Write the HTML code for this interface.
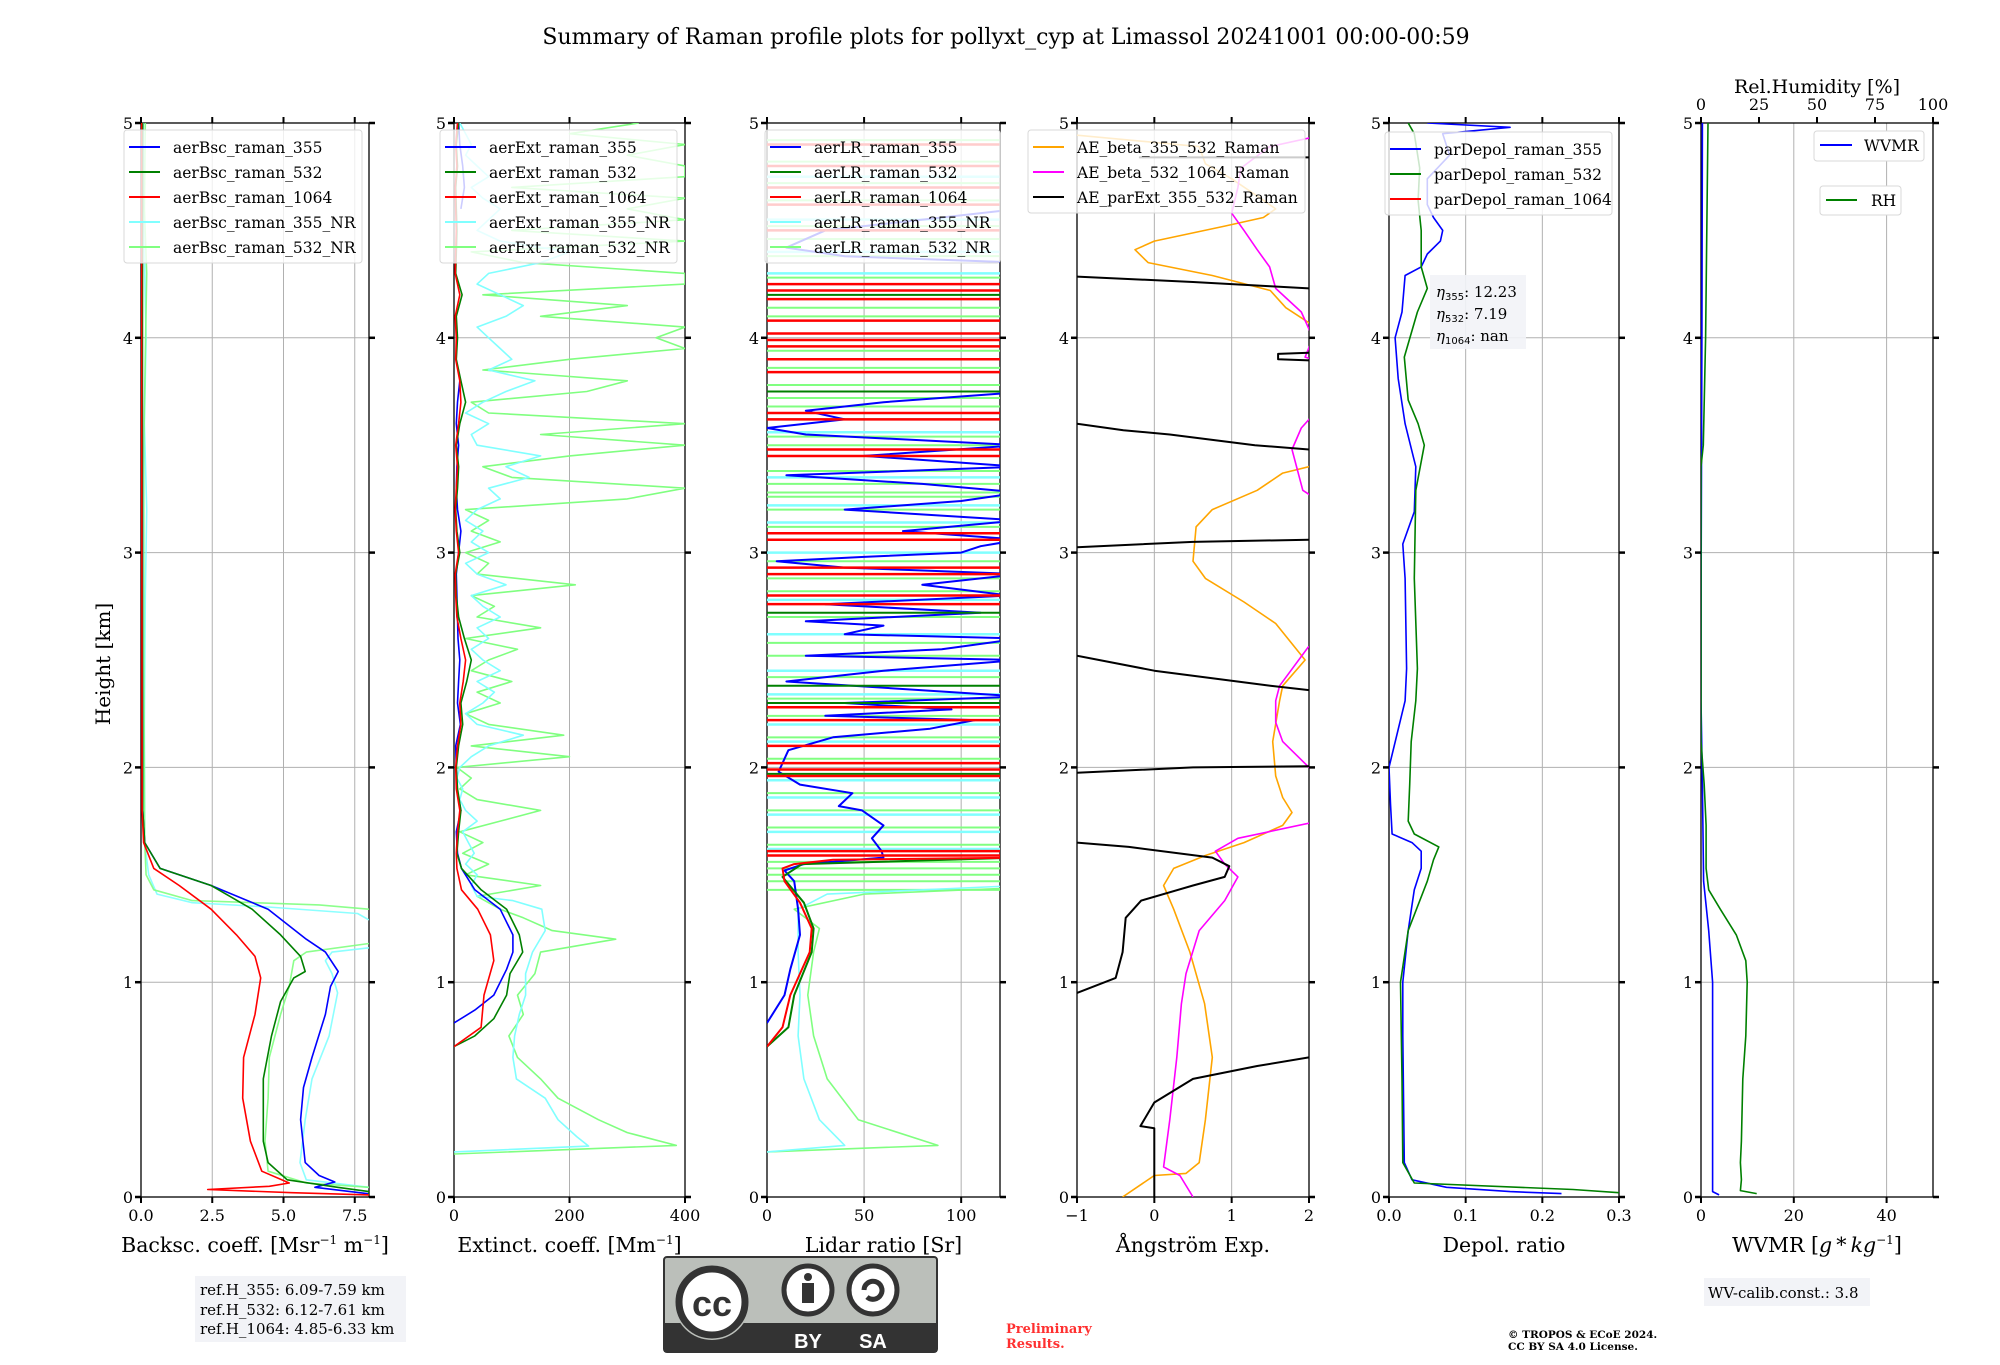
<!DOCTYPE html>
<html><head><meta charset="utf-8"><style>
html,body{margin:0;padding:0;background:#fff;}
svg text{font-family:"DejaVu Serif","Liberation Serif",serif;}
</style></head><body>
<svg id="fig" xmlns="http://www.w3.org/2000/svg" width="2000" height="1360" viewBox="0 0 2000 1360">
<rect x="0" y="0" width="2000" height="1360" fill="#fff"/>
<text x="1006" y="44" font-size="22" text-anchor="middle">Summary of Raman profile plots for pollyxt_cyp at Limassol 20241001 00:00-00:59</text>
<text transform="translate(110,664) rotate(-90)" font-size="20" text-anchor="middle">Height [km]</text>
<g id="plots"></g>
<g>
<rect x="195" y="1276" width="211" height="66" fill="#f2f3f7"/>
<text x="200" y="1295" font-size="15">ref.H_355: 6.09-7.59 km</text>
<text x="200" y="1315" font-size="15">ref.H_532: 6.12-7.61 km</text>
<text x="200" y="1334" font-size="15">ref.H_1064: 4.85-6.33 km</text>
</g>
<g>
<rect x="1704" y="1278" width="166" height="28" fill="#f2f3f7"/>
<text x="1708" y="1298" font-size="15">WV-calib.const.: 3.8</text>
</g>
<g>
<rect x="664" y="1257" width="273" height="95" rx="3" fill="#bbbfba" stroke="#333" stroke-width="2"/>
<rect x="664" y="1323" width="273" height="29" fill="#333"/>
<circle cx="712" cy="1302" r="38" fill="#bbbfba"/>
<circle cx="712" cy="1302" r="33" fill="#fff" stroke="#333" stroke-width="7"/>
<text x="712" y="1316" font-weight="bold" font-size="36" text-anchor="middle" fill="#333" style="font-family:'Liberation Sans',sans-serif">cc</text>
<circle cx="808" cy="1290" r="24" fill="#fff" stroke="#333" stroke-width="5"/>
<circle cx="808" cy="1277" r="4" fill="#333"/><rect x="802" y="1283" width="12" height="20" fill="#333"/>
<circle cx="873" cy="1290" r="24" fill="#fff" stroke="#333" stroke-width="5"/>
<path d="M864 1290 a9 9 0 1 1 3 7" fill="none" stroke="#333" stroke-width="5"/>
<text x="808" y="1348" font-size="20" font-weight="bold" fill="#fff" text-anchor="middle" style="font-family:'Liberation Sans',sans-serif">BY</text>
<text x="873" y="1348" font-size="20" font-weight="bold" fill="#fff" text-anchor="middle" style="font-family:'Liberation Sans',sans-serif">SA</text>
</g>
<text x="1006" y="1333" font-size="13" font-weight="bold" fill="#ff3030">Preliminary</text>
<text x="1006" y="1348" font-size="13" font-weight="bold" fill="#ff3030">Results.</text>
<text x="1508" y="1338" font-size="10.5" font-weight="bold">© TROPOS &amp; ECoE 2024.</text>
<text x="1508" y="1350" font-size="10.5" font-weight="bold">CC BY SA 4.0 License.</text>
</svg>
<script>
// ---------- data ----------
const heightTicks=[0,1,2,3,4,5];
const bscTicks=[0,2.5,5,7.5], bscTickLabels=["0.0","2.5","5.0","7.5"];
const extTicks=[0,200,400], lrTicks=[0,50,100], aeTicks=[-1,0,1,2], aeTickLabels=["\u22121","0","1","2"];
const depTicks=[0,0.1,0.2,0.3], depTickLabels=["0.0","0.1","0.2","0.3"];
const wvTicks=[0,20,40], rhTicks=[0,25,50,75,100];

// Panel 1: backscatter
const bsc355H=[0.015,0.045,0.07,0.1,0.16,0.36,0.51,0.65,0.85,0.98,1.05,1.14,1.2,1.34,1.45,1.53,1.65,1.8,2.5,3.5,4.5,5.0];
const bsc355V=[8,6.1,6.8,6.25,5.76,5.6,5.7,6.0,6.47,6.65,6.92,6.47,5.8,4.46,2.46,0.67,0.13,0.06,0.05,0.05,0.04,0.04];
const bsc532H=[0.01,0.025,0.045,0.08,0.16,0.26,0.55,0.75,0.91,1.02,1.05,1.12,1.22,1.34,1.45,1.53,1.65,1.8,3.0,4.0,5.0];
const bsc532V=[8,8,6.9,5.13,4.46,4.29,4.29,4.58,4.9,5.36,5.76,5.6,4.9,3.9,2.46,0.67,0.13,0.06,0.04,0.05,0.06];
const bsc1064H=[0.01,0.02,0.035,0.05,0.065,0.12,0.26,0.46,0.65,0.85,1.02,1.12,1.22,1.34,1.45,1.53,1.65,1.8,3.0,4.0,5.0];
const bsc1064V=[8,5.3,2.34,4.5,5.2,4.24,3.84,3.57,3.6,4.0,4.2,4.0,3.35,2.46,1.34,0.45,0.09,0.04,0.03,0.02,0.02];
const bsc355nrH=[0.045,0.08,0.16,0.36,0.55,0.75,0.95,1.04,1.1,1.14,1.16,null,1.29,1.32,1.35,1.37,1.41,1.5,1.65,2.2,2.8,3.2,3.6,4.0,4.5,5.0];
const bsc355nrV=[8,5.8,5.58,5.76,6.0,6.6,6.9,6.7,6.47,6.7,8,null,8,7.6,4.46,1.8,0.56,0.27,0.13,0.12,0.15,0.2,0.12,0.18,0.1,0.08];
const bsc532nrH=[0.045,0.065,0.12,0.26,0.46,0.65,0.85,0.98,1.1,1.14,1.18,null,1.34,1.36,1.38,1.43,1.5,1.65,2.5,3.5,4.3,4.6,5.0];
const bsc532nrV=[8,5.8,4.46,4.35,4.46,4.5,4.9,5.2,5.36,5.8,8,null,8,6.25,1.8,0.45,0.18,0.13,0.1,0.1,0.2,0.12,0.15];

// Panel 2: extinction
const gridH=[1.45,1.5,1.55,1.6,1.65,1.7,1.75,1.8,1.85,1.9,1.95,2.0,2.05,2.1,2.15,2.2,2.25,2.3,2.35,2.4,2.45,2.5,2.55,2.6,2.65,2.7,2.75,2.8,2.85,2.9,2.95,3.0,3.05,3.1,3.15,3.2,3.25,3.3,3.35,3.4,3.45,3.5,3.55,3.6,3.65,3.7,3.75,3.8,3.85,3.9,3.95,4.0,4.05,4.1,4.15,4.2,4.25,4.3,4.35,4.4,4.45,4.5,4.55,4.6,4.65,4.7,4.75,4.8,4.85,4.9,4.95,5.0];
const ext532nrUp=[150,20,60,15,50,10,80,150,40,10,30,5,200,30,190,60,20,80,40,100,30,60,110,20,150,40,70,30,210,40,60,20,80,30,60,20,300,400,100,50,200,400,150,400,60,30,230,300,50,200,400,350,400,150,300,50,400,400,120,30,400,100,400,300,400,100,400,400,300,400,200,320];
const ext355nrUp=[30,40,20,35,25,15,40,20,10,15,5,10,30,60,120,40,20,50,70,40,80,50,30,60,40,80,50,30,90,40,20,60,30,50,20,40,80,60,130,90,150,40,30,60,20,50,90,140,60,100,80,60,40,90,120,80,40,60,150,200,80,40,60,80,50,30,60,40,20,30,20,10];
const ext532nrLowH=[0.2,0.24,0.3,0.36,0.46,0.55,0.65,0.75,0.85,0.94,1.04,1.14,1.2,1.24,1.3,1.34,1.4];
const ext532nrLowV=[0,385,300,250,180,150,110,95,120,110,140,150,280,170,120,80,40];
const ext355nrLowH=[0.21,0.237,0.28,0.36,0.46,0.55,0.65,0.75,0.85,0.94,1.04,1.14,1.24,1.34,1.38,1.4];
const ext355nrLowV=[0,233,213,180,158,108,102,105,113,124,124,136,158,152,102,40];
const gridC=[1.6,1.7,1.8,1.9,2.0,2.1,2.2,2.3,2.4,2.5,2.6,2.7,2.8,2.9,3.0,3.1,3.2,3.3,3.4,3.5,3.6,3.7,3.8,3.9,4.0,4.1,4.2,4.3,4.4,4.5,4.6,4.7,4.8,4.9,5.0];
const ext355H=[0.81,0.87,0.94,1.06,1.14,1.22,1.34,1.43,1.53];
const ext355V=[0,36,69,91,102,102,80,36,13];
const ext355Up=[6,4,12,5,4,3,11,6,8,10,7,6,5,4,8,12,6,4,5,8,4,6,10,null,null,null,null,null,null,null,12,18,15,10,8];
const ext532H=[0.7,0.75,0.83,0.94,1.04,1.14,1.22,1.34,1.43,1.53];
const ext532V=[0,36,69,91,97,119,113,91,47,13];
const ext532Up=[5,8,12,6,4,8,15,12,22,30,18,8,4,3,10,5,3,6,8,4,10,20,12,4,6,4,14,3,4,5,4,3,6,4,8];
const ext1064H=[0.7,0.79,0.94,1.1,1.22,1.34,1.43,1.53];
const ext1064V=[0,47,52,69,63,41,13,5];
const ext1064Up=[4,6,10,4,3,6,12,10,16,20,12,5,3,2,8,4,2,4,6,3,8,12,10,3,4,2,10,2,3,4,3,2,5,3,6];

// Panel 3: lidar ratio
const lr355H=[0.81,0.94,1.06,1.22,1.34,1.47,1.52,1.55,1.58,1.61,1.67,1.73,1.8,1.82,1.88,1.92,1.98,2.08,2.14,2.18,2.22,2.24,2.27,2.3,2.33,2.4,2.45,2.5,2.52,2.55,2.6,2.62,2.66,2.68,2.72,2.76,2.8,2.85,2.9,2.93,2.96,2.98,3.0,3.03,3.06,3.1,3.15,3.2,3.24,3.28,3.32,3.36,3.4,3.45,3.5,3.55,3.58,3.62,3.66,3.7,3.74,3.8,4.35,4.38,4.42,4.5,4.6];
const lr355V=[0,9,12,17,16,14,9,19,60,59,54,60,49,37,44,17,6,11,34,84,107,30,95,40,130,10,60,130,20,90,130,40,60,20,110,30,125,80,130,40,5,50,100,110,130,70,130,40,100,130,80,10,130,50,130,20,0,40,20,60,120,130,130,40,10,30,130];
const lr532H=[0.7,0.79,0.94,1.14,1.25,1.37,1.49,1.55,1.58];
const lr532V=[0,11,14,23,24,19,8,18,130];
const lr1064H=[0.7,0.79,0.94,1.14,1.25,1.37,1.47,1.53,1.55,1.57,1.58];
const lr1064V=[0,8,12,22,23,17,9,8,14,34,130];
const lr355nrH=[0.21,0.24,0.36,0.55,0.75,0.94,1.14,1.34,1.41,1.45];
const lr355nrV=[0,40,27,19,16,17,16,16,31,130];
const lr532nrH=[0.21,0.24,0.36,0.55,0.75,0.94,1.14,1.25,1.34,1.41,1.44];
const lr532nrV=[0,88,47,31,24,21,24,27,14,50,130];
const lrRedStreaks=[1.59,1.61,1.96,1.99,2.02,2.1,2.22,2.28,2.76,2.8,2.9,2.93,3.06,3.09,3.45,3.48,3.62,3.65,3.84,3.9,3.96,3.99,4.02,4.08,4.18,4.22,4.25,4.5,4.62,4.7,4.8,4.9];
const lrGreenStreaks=[1.97,2.02,2.3,2.38,2.72,3.45,3.62,3.75,3.99,4.2];
const lrCyanStreaks=[1.62,1.7,1.78,1.86,1.94,2.12,2.2,2.34,2.45,2.62,2.78,3.0,3.14,3.22,3.35,3.56,3.9,4.3,4.4,4.55,4.75];
const lrLtGreenStreaks=[1.43,1.47,1.5,1.53,1.56,1.64,1.72,1.8,1.88,2.04,2.14,2.24,2.32,2.42,2.52,2.58,2.7,2.82,2.88,2.96,3.12,3.2,3.26,3.28,3.32,3.38,3.5,3.54,3.68,3.72,3.78,3.86,3.94,4.1,4.14,4.28,4.38,4.46,4.52,4.64,4.72,4.82,4.92];

// Panel 4: Angstrom
const ae355532H=[0,0.1,0.11,0.16,0.36,0.65,0.9,1.14,1.34,1.45,1.53,1.59,1.65,1.73,1.79,1.86,1.96,2.12,2.31,2.38,2.5,2.67,2.77,2.88,2.96,3.12,3.2,3.29,3.37,3.4,3.5,null,4.0,4.07,4.14,4.22,4.29,4.35,4.41,4.45,4.52,4.56,4.6,4.66,4.74,4.81,4.89,4.95];
const ae355532V=[-0.41,0,0.41,0.58,0.66,0.75,0.65,0.46,0.25,0.12,0.25,0.66,1.16,1.66,1.78,1.66,1.57,1.53,1.62,1.66,1.95,1.57,1.16,0.66,0.5,0.54,0.75,1.33,1.66,2.0,2.6,null,2.6,2.0,1.7,1.5,0.75,-0.08,-0.25,0,0.91,1.41,1.57,1.33,1.0,0.66,0.58,-1.2];
const ae5321064H=[0,0.1,0.14,0.36,0.65,0.9,1.04,1.24,1.38,1.49,1.55,1.61,1.67,1.74,1.8,null,1.95,2.0,2.12,2.21,2.31,2.38,2.56,2.6,null,3.2,3.29,3.48,3.58,3.62,3.66,null,3.87,3.91,4.0,4.12,4.23,4.33,4.41,4.5,4.58,4.7,4.79,4.89,4.93,4.96];
const ae5321064V=[0.5,0.33,0.12,0.2,0.29,0.35,0.41,0.58,0.91,1.08,0.91,0.79,1.08,2.0,2.5,null,2.5,2.0,1.66,1.57,1.57,1.62,1.99,2.3,null,2.3,1.92,1.78,1.9,2.0,2.3,null,2.3,1.95,2.05,1.9,1.57,1.49,1.33,1.16,1.0,1.08,1.12,1.49,2.0,2.4];
const aeExtH=[0,0.32,0.33,0.44,0.55,0.61,0.65,0.68,null,0.93,0.95,1.02,1.14,1.3,1.38,1.45,1.49,1.54,1.58,1.63,1.65,1.67,null,1.975,2.0,2.005,null,2.52,2.45,2.38,2.36,null,3.025,3.05,3.06,null,3.6,3.57,3.55,3.5,3.48,3.47,null,3.93,3.925,3.9,3.895,null,4.285,4.26,4.24,4.23,null,4.84,4.84];
const aeExtV=[0,0,-0.18,0,0.5,1.33,2.0,2.8,null,-1.3,-1.0,-0.5,-0.41,-0.37,-0.17,0.5,0.91,0.97,0.75,-0.33,-1.0,-1.5,null,-1.0,0.5,2.0,null,-1.0,0.0,1.5,2.0,null,-1.0,0.5,2.0,null,-1.0,-0.4,0.2,1.3,2.0,2.5,null,2.0,1.6,1.6,2.0,null,-1.0,0.5,1.5,2.0,null,-0.2,2.0];

// Panel 5: depolarization
const dep355H=[0.016,0.025,0.045,0.08,0.16,0.75,1.0,1.24,1.43,1.53,1.61,1.65,1.69,1.83,2.0,2.31,2.46,2.88,3.04,3.19,3.4,3.6,3.81,4.0,4.12,4.29,4.33,4.39,4.45,4.5,4.56,4.62,4.74,4.85,4.95,4.98,5.0];
const dep355V=[0.225,0.158,0.075,0.03,0.02,0.018,0.018,0.025,0.033,0.042,0.042,0.03,0.004,0.002,0,0.021,0.023,0.021,0.018,0.033,0.035,0.021,0.012,0.008,0.017,0.021,0.042,0.05,0.067,0.07,0.058,0.05,0.05,0.079,0.07,0.158,0.05];
const dep532H=[0.02,0.035,0.065,0.16,0.55,1.0,1.24,1.47,1.57,1.63,1.69,1.75,1.92,2.12,2.31,2.46,2.88,3.29,3.5,3.6,3.71,3.91,4.12,4.23,4.33,4.5,4.64,4.79,4.95,5.0];
const dep532V=[0.3,0.24,0.033,0.018,0.017,0.015,0.025,0.05,0.058,0.065,0.033,0.025,0.027,0.029,0.035,0.037,0.033,0.035,0.046,0.038,0.025,0.02,0.037,0.05,0.042,0.042,0.038,0.04,0.033,0.025];

// Panel 6: water vapour
const wvmrH=[0.01,0.025,0.36,1.0,1.24,1.47,1.92,2.31,3.0,4.0,5.0];
const wvmrV=[3.9,2.5,2.5,2.5,1.66,0.55,0.3,0,0.05,0.2,0.3];
const rhH=[0.016,0.03,0.08,0.16,0.26,0.55,0.75,1.0,1.1,1.22,1.34,1.43,1.53,1.73,1.92,2.12,3.4,3.5,4.0,4.5,5.0];
const rhV=[24,17,17.4,17,17.4,18,19.3,19.9,19.3,15.2,8.3,3.3,2.2,2.2,1.4,0,0,1,2,2.5,3];

// ---------- layout ----------
const NS="http://www.w3.org/2000/svg";
const Y0=1197, YT=123;
const plots=document.getElementById('plots');
function yPix(h){return Y0-(h/5)*(Y0-YT);}
function mk(tag,attrs,parent){const e=document.createElementNS(NS,tag);for(const k in attrs)e.setAttribute(k,attrs[k]);(parent||plots).appendChild(e);return e;}
function makePanel(id,L,R,min,max){return {id,L,R,min,max,x:v=>L+(v-min)/(max-min)*(R-L)};}
const P=[makePanel('bsc',141,369,0,8),makePanel('ext',454,685,0,400),makePanel('lr',767,1000,0,120),
 makePanel('ae',1077,1309,-1,2),makePanel('dep',1389,1619,0,0.3),makePanel('wv',1701,1933,0,50)];
const rhAxis=v=>P[5].L+v/100*(P[5].R-P[5].L);

function axesFrame(p,ticks,labels,xlabel,topTicks){
  const g=mk('g',{});
  
  
  const clip=mk('clipPath',{id:'clip-'+p.id},g);
  mk('rect',{x:p.L,y:YT,width:p.R-p.L,height:Y0-YT},clip);
  ticks.forEach((t,i)=>{const x=p.x(t);
    mk('line',{x1:x,x2:x,y1:YT,y2:Y0,stroke:'#b0b0b0','stroke-width':1},g);
    mk('line',{x1:x,x2:x,y1:Y0,y2:Y0+6,stroke:'#000','stroke-width':2},g);
    if(topTicks) mk('line',{x1:x,x2:x,y1:YT,y2:YT-6,stroke:'#000','stroke-width':2},g);
    const tx=mk('text',{x:x,y:Y0+24,'font-size':16,'text-anchor':'middle'},g);tx.textContent=labels?labels[i]:String(t);
  });
  heightTicks.forEach(h=>{const y=yPix(h);
    mk('line',{x1:p.L,x2:p.R,y1:y,y2:y,stroke:'#b0b0b0','stroke-width':1},g);
    mk('line',{x1:p.L-6,x2:p.L,y1:y,y2:y,stroke:'#000','stroke-width':2.5},g);
    mk('line',{x1:p.R,x2:p.R+6,y1:y,y2:y,stroke:'#000','stroke-width':2.5},g);
    const tx=mk('text',{x:p.L-8,y:y+6,'font-size':16,'text-anchor':'end'},g);tx.textContent=String(h);
  });
  const xl=mk('text',{x:(p.L+p.R)/2,y:Y0+55,'font-size':20.5,'text-anchor':'middle'},g);
  xl.innerHTML=xlabel;
  
  
  return g;
}
function frameBox(p,g){mk('rect',{x:p.L,y:YT,width:p.R-p.L,height:Y0-YT,fill:'none',stroke:'#000','stroke-width':1.3},g);}
function series(p,H,V,color,name,xf,w,op){
  const f=xf||p.x;let d='',pen=false;
  for(let i=0;i<H.length;i++){
    if(H[i]===null||V[i]===null){pen=false;continue;}
    d+=(pen?'L':'M')+f(V[i]).toFixed(1)+' '+yPix(H[i]).toFixed(1);pen=true;}
  const e=mk('path',{d:d,fill:'none',stroke:color,'stroke-width':w||1.6,'stroke-opacity':op||1,'clip-path':'url(#clip-'+p.id+')','stroke-linejoin':'round'});
  
  
  return e;
}
function streaks(p,H,color,name,w,op){
  const g=mk('g',{'clip-path':'url(#clip-'+p.id+')'});
  
  
  H.forEach(h=>{mk('line',{x1:p.L,x2:p.R,y1:yPix(h),y2:yPix(h),stroke:color,'stroke-width':w,'stroke-opacity':op},g);});
}
function concat(a,b){return a.concat(b);}
function legend(x,y,w,entries,name,lh){
  const g=mk('g',{});
  
  
  lh=lh||25;
  mk('rect',{x:x,y:y,width:w,height:entries.length*lh+8,rx:3,fill:'#fff','fill-opacity':0.8,stroke:'#d8d8d8'},g);
  entries.forEach((en,i)=>{const yy=y+17+i*lh;
    mk('line',{x1:x+5,x2:x+36,y1:yy,y2:yy,stroke:en[1],'stroke-width':2},g);
    const t=mk('text',{x:x+49,y:yy+6,'font-size':15.5},g);t.textContent=en[0];});
}

// Panel 1
let g=axesFrame(P[0],bscTicks,bscTickLabels,'Backsc. coeff. [Msr<tspan font-size="12" dy="-8">\u22121</tspan><tspan dy="8"> m</tspan><tspan font-size="12" dy="-8">\u22121</tspan><tspan dy="8">]</tspan>',true);
series(P[0],bsc355nrH,bsc355nrV,'#80ffff','bsc-355-nr-line',null,1.6,0.9);
series(P[0],bsc532nrH,bsc532nrV,'#80ff80','bsc-532-nr-line',null,1.6,0.9);
series(P[0],bsc355H,bsc355V,'#0000ff','bsc-355-line');
series(P[0],bsc532H,bsc532V,'#008000','bsc-532-line');
series(P[0],bsc1064H,bsc1064V,'#ff0000','bsc-1064-line');
frameBox(P[0],g);
legend(124,130,238,[['aerBsc_raman_355','#0000ff'],['aerBsc_raman_532','#008000'],['aerBsc_raman_1064','#ff0000'],['aerBsc_raman_355_NR','#80ffff'],['aerBsc_raman_532_NR','#80ff80']],'bsc-legend');

// Panel 2
g=axesFrame(P[1],extTicks,null,'Extinct. coeff. [Mm<tspan font-size="12" dy="-8">\u22121</tspan><tspan dy="8">]</tspan>',true);
series(P[1],concat(ext532nrLowH,gridH),concat(ext532nrLowV,ext532nrUp),'#80ff80','ext-532-nr-line',null,1.6);
series(P[1],concat(ext355nrLowH,gridH),concat(ext355nrLowV,ext355nrUp),'#80ffff','ext-355-nr-line',null,1.6);
series(P[1],concat(ext355H,gridC),concat(ext355V,ext355Up),'#0000ff','ext-355-line');
series(P[1],concat(ext532H,gridC),concat(ext532V,ext532Up),'#008000','ext-532-line');
series(P[1],concat(ext1064H,gridC),concat(ext1064V,ext1064Up),'#ff0000','ext-1064-line');
frameBox(P[1],g);
legend(440,130,237,[['aerExt_raman_355','#0000ff'],['aerExt_raman_532','#008000'],['aerExt_raman_1064','#ff0000'],['aerExt_raman_355_NR','#80ffff'],['aerExt_raman_532_NR','#80ff80']],'ext-legend');

// Panel 3
g=axesFrame(P[2],lrTicks,null,'Lidar ratio [Sr]',true);
streaks(P[2],lrLtGreenStreaks,'#80ff80','lr-532-nr-streaks',2,1);
series(P[2],lr532nrH,lr532nrV,'#80ff80','lr-532-nr-line',null,1.6);
streaks(P[2],lrCyanStreaks,'#80ffff','lr-355-nr-streaks',2.5,1);
series(P[2],lr355nrH,lr355nrV,'#80ffff','lr-355-nr-line',null,1.6);
series(P[2],lr355H,lr355V,'#0000ff','lr-355-line',null,2);
streaks(P[2],lrGreenStreaks,'#008000','lr-532-streaks',2,1);
series(P[2],lr532H,lr532V,'#008000','lr-532-line',null,2);
streaks(P[2],lrRedStreaks,'#ff0000','lr-1064-streaks',2.5,1);
series(P[2],lr1064H,lr1064V,'#ff0000','lr-1064-line',null,2);
frameBox(P[2],g);
legend(765,130,235,[['aerLR_raman_355','#0000ff'],['aerLR_raman_532','#008000'],['aerLR_raman_1064','#ff0000'],['aerLR_raman_355_NR','#80ffff'],['aerLR_raman_532_NR','#80ff80']],'lr-legend');

// Panel 4
g=axesFrame(P[3],aeTicks,aeTickLabels,'\u00c5ngstr\u00f6m Exp.',true);
series(P[3],ae355532H,ae355532V,'#ffa500','ae-beta-355-532-line');
series(P[3],ae5321064H,ae5321064V,'#ff00ff','ae-beta-532-1064-line');
series(P[3],aeExtH,aeExtV,'#000000','ae-parext-355-532-line',null,2);
frameBox(P[3],g);
legend(1028,130,277,[['AE_beta_355_532_Raman','#ffa500'],['AE_beta_532_1064_Raman','#ff00ff'],['AE_parExt_355_532_Raman','#000000']],'ae-legend');

// Panel 5
g=axesFrame(P[4],depTicks,depTickLabels,'Depol. ratio',true);
series(P[4],dep355H,dep355V,'#0000ff','pardepol-355-line');
series(P[4],dep532H,dep532V,'#008000','pardepol-532-line');
frameBox(P[4],g);
legend(1385,132,227,[['parDepol_raman_355','#0000ff'],['parDepol_raman_532','#008000'],['parDepol_raman_1064','#ff0000']],'depol-legend');
const eg=mk('g',{});


mk('rect',{x:1430,y:275,width:96,height:74,fill:'#f2f3f7','fill-opacity':0.9},eg);
[['355','12.23'],['532','7.19'],['1064','nan']].forEach((r,i)=>{const t=mk('text',{x:1436,y:297+i*22,'font-size':15},eg);
  t.innerHTML='<tspan font-style="italic">\u03b7</tspan><tspan font-size="10" dy="3" style="font-family:\'DejaVu Sans\',sans-serif">'+r[0]+'</tspan><tspan dy="-3">: '+r[1]+'</tspan>';});

// Panel 6
g=axesFrame(P[5],wvTicks,null,'WVMR [<tspan font-style="italic">g</tspan>\u2009*\u2009<tspan font-style="italic">kg</tspan><tspan font-size="12" dy="-8">\u22121</tspan><tspan dy="8">]</tspan>',false);
rhTicks.forEach(t=>{const x=rhAxis(t);
  mk('line',{x1:x,x2:x,y1:YT,y2:YT-6,stroke:'#000','stroke-width':2},g);
  const tx=mk('text',{x:x,y:YT-13,'font-size':16,'text-anchor':'middle'},g);tx.textContent=String(t);});
const rl=mk('text',{x:1817,y:93,'font-size':19,'text-anchor':'middle'},g);rl.textContent='Rel.Humidity [%]';


series(P[5],wvmrH,wvmrV,'#0000ff','wvmr-line');
series(P[5],rhH,rhV,'#008000','rh-line',rhAxis);
frameBox(P[5],g);
const wl=mk('g',{});
mk('rect',{x:1814,y:131,width:110,height:30,rx:3,fill:'#fff',stroke:'#d8d8d8'},wl);
mk('line',{x1:1820,x2:1852,y1:145,y2:145,stroke:'#0000ff','stroke-width':2},wl);
let t=mk('text',{x:1864,y:151,'font-size':15.5},wl);t.textContent='WVMR';
const rlg=mk('g',{});
mk('rect',{x:1820,y:186,width:81,height:29,rx:3,fill:'#fff',stroke:'#d8d8d8'},rlg);
mk('line',{x1:1826,x2:1857,y1:200,y2:200,stroke:'#008000','stroke-width':2},rlg);
t=mk('text',{x:1871,y:206,'font-size':15.5},rlg);t.textContent='RH';
</script>
</body></html>
